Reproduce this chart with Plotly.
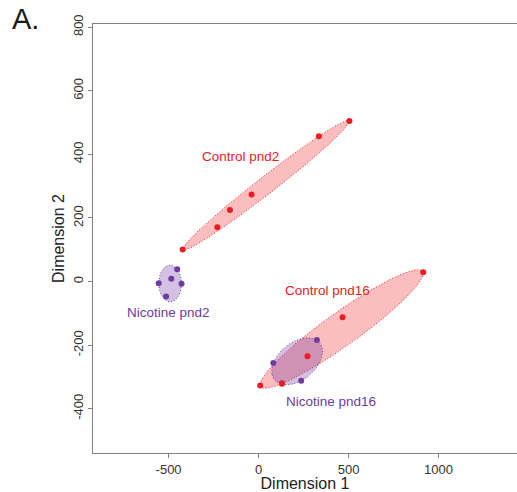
import numpy as np
import plotly.graph_objects as go

# ---- data ----
ctrl2_x = [-422, -229, -159, -39, 335, 505]
ctrl2_y = [101, 171, 225, 274, 457, 505]
ctrl16_x = [9, 130, 272, 467, 915]
ctrl16_y = [-327, -321, -235, -112, 29]
nic2_x = [-452, -485, -555, -428, -514]
nic2_y = [39, 9, -5, -7, -47]
nic16_x = [324, 82, 237, 130]
nic16_y = [-184, -256, -312, -320]

x_ticks = [-500, 0, 500, 1000]
y_ticks = [-400, -200, 0, 200, 400, 600, 800]

RED = "rgb(236,28,36)"
RED_FILL = "rgba(238,40,40,0.30)"
PUR = "rgb(110,60,160)"
PUR_FILL = "rgba(112,48,160,0.30)"
FONT = "Liberation Sans, Arial, sans-serif"


def diam_ellipse(px, py, n=400):
    """Major axis joins the two farthest points; minor axis just wide
    enough to enclose every point."""
    P = np.column_stack([px, py]).astype(float)
    best, pair = -1, (0, 1)
    for i in range(len(P)):
        for j in range(i + 1, len(P)):
            dd = np.hypot(*(P[i] - P[j]))
            if dd > best:
                best, pair = dd, (i, j)
    p1, p2 = P[pair[0]], P[pair[1]]
    c = (p1 + p2) / 2
    a = best / 2
    ux = (p2 - p1) / best
    vx = np.array([-ux[1], ux[0]])
    b = 1e-9
    for k, p in enumerate(P):
        if k in pair:
            continue
        u = (p - c) @ ux
        v = (p - c) @ vx
        r = 1 - (u / a) ** 2
        if r > 1e-9:
            b = max(b, abs(v) / np.sqrt(r))
    t = np.linspace(0, 2 * np.pi, n)
    pts = c[:, None] + np.outer(ux, a * np.cos(t)) + np.outer(vx, b * np.sin(t))
    return pts[0], pts[1]


def mvee_ellipse(px, py, n=400, tol=1e-9, max_iter=100000):
    """Minimum-volume enclosing ellipse (Khachiyan)."""
    P = np.column_stack([px, py]).astype(float)
    N, d = P.shape
    Q = np.vstack([P.T, np.ones(N)])
    u = np.ones(N) / N
    for _ in range(max_iter):
        X = Q @ np.diag(u) @ Q.T
        M = np.einsum("ij,ji->i", Q.T @ np.linalg.inv(X), Q)
        j = int(np.argmax(M))
        mx = M[j]
        step = (mx - d - 1) / ((d + 1) * (mx - 1))
        nu = (1 - step) * u
        nu[j] += step
        err = np.linalg.norm(nu - u)
        u = nu
        if err < tol:
            break
    c = P.T @ u
    A = np.linalg.inv(P.T @ np.diag(u) @ P - np.outer(c, c)) / d
    vals, vecs = np.linalg.eigh(A)
    t = np.linspace(0, 2 * np.pi, n)
    circ = np.vstack([np.cos(t), np.sin(t)])
    pts = c[:, None] + vecs @ np.diag(1 / np.sqrt(vals)) @ circ
    return pts[0], pts[1]


fig = go.Figure()

groups = [
    (ctrl2_x, ctrl2_y, RED, RED_FILL, diam_ellipse),
    (nic2_x, nic2_y, PUR, PUR_FILL, diam_ellipse),
    (ctrl16_x, ctrl16_y, RED, RED_FILL, diam_ellipse),
    (nic16_x, nic16_y, PUR, PUR_FILL, mvee_ellipse),
]
for gx, gy, col, fill, fn in groups:
    ex, ey = fn(gx, gy)
    fig.add_trace(go.Scatter(x=ex, y=ey, mode="lines", fill="toself",
                             fillcolor=fill,
                             line=dict(color=col, width=1, dash="1px,2px"),
                             hoverinfo="skip", showlegend=False))
# purple points first so red points sit on top where they coincide
for gx, gy, col, fill, fn in [groups[1], groups[3], groups[0], groups[2]]:
    fig.add_trace(go.Scatter(x=gx, y=gy, mode="markers",
                             marker=dict(color=col, size=6),
                             showlegend=False))

labels = [
    ("Control pnd2", -102, 394, RED),
    ("Control pnd16", 383, -27, RED),
    ("Nicotine pnd2", -500, -98, PUR),
    ("Nicotine pnd16", 400, -378, PUR),
]
for txt, lx, ly, col in labels:
    fig.add_annotation(x=lx, y=ly, text=txt, showarrow=False,
                       font=dict(family=FONT, size=13.5, color=col))

fig.add_annotation(x=-0.195, y=1.054, xref="paper", yref="paper",
                   text="A.", showarrow=False,
                   font=dict(family=FONT, size=29, color="#1a1a1a"))

fig.update_layout(
    width=517, height=492,
    margin=dict(l=93, r=0, t=24, b=39),
    paper_bgcolor="white", plot_bgcolor="white",
    font=dict(family=FONT, size=13, color="#333"),
    xaxis=dict(range=[-920, 1436], tickvals=x_ticks,
               ticktext=[str(v) for v in x_ticks], automargin=False,
               showgrid=False, zeroline=False,
               showline=True, linecolor="#808080", linewidth=1, mirror=True,
               ticks="outside", ticklen=4, tickcolor="#808080",
               tickfont=dict(size=13, color="#333"),
               title=dict(text="Dimension 1", standoff=0,
                          font=dict(size=16, color="#222"))),
    yaxis=dict(range=[-539, 810], tickvals=y_ticks,
               ticktext=[str(v) for v in y_ticks], automargin=False,
               showgrid=False, zeroline=False,
               showline=True, linecolor="#808080", linewidth=1,
               ticks="outside", ticklen=4, tickcolor="#808080", tickangle=-90,
               tickfont=dict(size=13, color="#333"),
               title=dict(text="Dimension 2", standoff=2,
                          font=dict(size=16, color="#222"))),
)

# remove the page's default 8px body margin so the figure fills the window
fig.write_html("out.html", config={"displayModeBar": False},
               post_script="document.body.style.margin='0';")
